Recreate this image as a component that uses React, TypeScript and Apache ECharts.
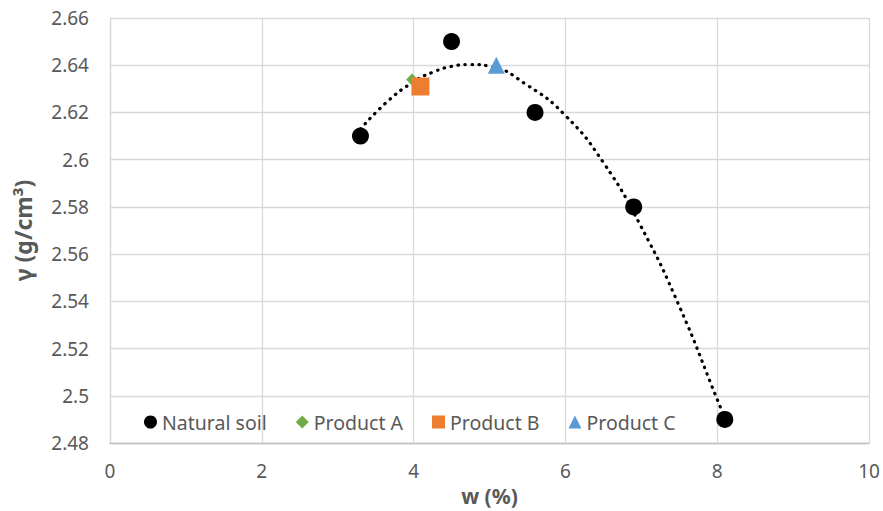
import React, { useEffect, useRef } from "react";
import * as echarts from "echarts";

// Measured points
const naturalSoilX = [3.3, 4.5, 5.6, 6.9, 8.1];
const naturalSoilY = [2.61, 2.65, 2.62, 2.58, 2.49];
const productAX = [3.98];
const productAY = [2.634];
const productBX = [4.09];
const productBY = [2.631];
const productCX = [5.09];
const productCY = [2.64];

// Trendline
const trendX = [3.3, 3.65, 4.0, 4.25, 4.5, 4.75, 5.0, 5.5, 6.0, 6.5, 7.0, 7.5, 8.0, 8.1];
const trendY = [2.613, 2.6245, 2.633, 2.637, 2.6395, 2.6403, 2.6396, 2.6315, 2.6187, 2.5988, 2.5715, 2.538, 2.4985, 2.4905];

const xTicks = { min: 0, max: 10, interval: 2 };
const yTicks = { min: 2.48, max: 2.66, interval: 0.02 };

const FONT = "'Noto Sans', 'Liberation Sans', sans-serif";
const TXT = "#595959";
const GRID = "#d9d9d9";

const zip = (xs: number[], ys: number[]) => xs.map((x, i) => [x, ys[i]]);

export default function App() {
  const ref = useRef<HTMLDivElement>(null);
  useEffect(() => {
    document.body.style.margin = "0";
    const chart = echarts.init(ref.current!, null, { renderer: "svg" });
    chart.setOption({
      animation: false,
      backgroundColor: "#fff",
      textStyle: { fontFamily: FONT },
      grid: { left: 110, right: 14, top: 18, bottom: 63, containLabel: false },
      xAxis: {
        type: "value",
        min: xTicks.min,
        max: xTicks.max,
        interval: xTicks.interval,
        name: "w (%)",
        nameLocation: "middle",
        nameGap: 34,
        nameTextStyle: { fontSize: 21, fontWeight: "bold", color: TXT, fontFamily: FONT },
        axisLine: { show: true, lineStyle: { color: "#bfbfbf", width: 1.3 } },
        axisTick: { show: false },
        axisLabel: { fontSize: 19, color: TXT, margin: 18, fontFamily: FONT },
        splitLine: { show: true, lineStyle: { color: GRID, width: 1.3 } },
      },
      yAxis: {
        type: "value",
        min: yTicks.min,
        max: yTicks.max,
        interval: yTicks.interval,
        name: "γ (g/cm³)",
        nameLocation: "middle",
        nameGap: 76,
        nameTextStyle: { fontSize: 23, fontWeight: "bold", color: TXT, fontFamily: FONT },
        axisLine: { show: true, lineStyle: { color: GRID, width: 1.3 } },
        axisTick: { show: false },
        axisLabel: { fontSize: 19, color: TXT, margin: 21, fontFamily: FONT },
        splitLine: { show: true, lineStyle: { color: GRID, width: 1.3 } },
      },
      legend: {
        data: [
          { name: "Natural soil", icon: "circle" },
          { name: "Product A", icon: "diamond" },
          { name: "Product B", icon: "rect" },
          { name: "Product C", icon: "triangle" },
        ],
        left: 139,
        top: 407,
        itemWidth: 13,
        itemHeight: 13,
        itemGap: 29,
        textStyle: { fontSize: 19.5, color: TXT, fontFamily: FONT },
      },
      series: [
        {
          name: "trend",
          type: "line",
          data: zip(trendX, trendY),
          smooth: true,
          showSymbol: false,
          symbol: "none",
          z: 1,
          lineStyle: { color: "#000", width: 3.2, type: [0.5, 6.5], cap: "round" },
        },
        {
          name: "Natural soil",
          type: "scatter",
          data: zip(naturalSoilX, naturalSoilY),
          symbol: "circle",
          symbolSize: 17,
          itemStyle: { color: "#000", opacity: 1 },
          z: 3,
        },
        {
          name: "Product A",
          type: "scatter",
          data: zip(productAX, productAY),
          symbol: "diamond",
          symbolSize: 12,
          itemStyle: { color: "#70ad47", opacity: 1 },
          z: 3,
        },
        {
          name: "Product B",
          type: "scatter",
          data: zip(productBX, productBY),
          symbol: "rect",
          symbolSize: 18,
          itemStyle: { color: "#ed7d31", opacity: 1 },
          z: 3,
        },
        {
          name: "Product C",
          type: "scatter",
          data: zip(productCX, productCY),
          symbol: "triangle",
          symbolSize: 17,
          itemStyle: { color: "#5b9bd5", opacity: 1 },
          z: 3,
        },
      ],
    });
    return () => chart.dispose();
  }, []);
  return <div ref={ref} style={{ width: 883, height: 511 }} />;
}
